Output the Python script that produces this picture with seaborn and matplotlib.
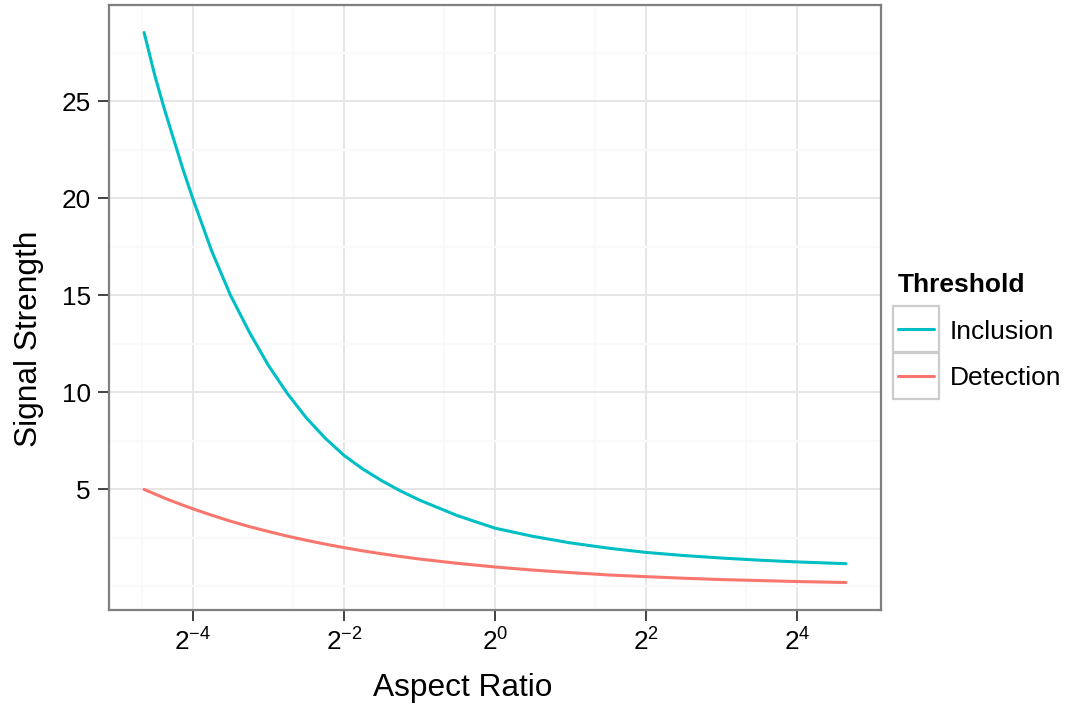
import numpy as np
import pandas as pd
import matplotlib
matplotlib.use("Agg")
import matplotlib.pyplot as plt
import seaborn as sns
from matplotlib.patches import Rectangle
from matplotlib.ticker import NullFormatter

# aspect ratio values (x)
aspect_ratio = [0.04, 0.0442, 0.0482, 0.0526, 0.0573, 0.0625, 0.0743, 0.0884,
                0.1051, 0.125, 0.1487, 0.1768, 0.2102, 0.25, 0.2973, 0.3536,
                0.4204, 0.5, 0.7071, 1.0, 1.414, 2.0, 2.828, 4.0, 5.657, 8.0,
                11.31, 16.0, 25.0]
inclusion = [28.55, 26.3, 24.6, 23.0, 21.45, 20.0, 17.3, 15.0,
             13.1, 11.4, 9.95, 8.7, 7.65, 6.76, 6.05, 5.45,
             4.92, 4.45, 3.65, 3.0, 2.58, 2.24, 1.97, 1.75, 1.59, 1.46,
             1.35, 1.26, 1.17]
detection = [5.0, 4.76, 4.55, 4.36, 4.18, 4.0, 3.67, 3.36,
             3.08, 2.83, 2.59, 2.38, 2.18, 2.0, 1.83, 1.68,
             1.54, 1.41, 1.19, 1.0, 0.84, 0.71, 0.59, 0.5, 0.42, 0.35,
             0.30, 0.25, 0.2]
series_names = ["Inclusion", "Detection"]
series_colors = {"Inclusion": "#00BFC4", "Detection": "#F8766D"}
x_major = [2 ** -4, 2 ** -2, 1, 4, 16]
x_major_labels = ["$2^{-4}$", "$2^{-2}$", "$2^{0}$", "$2^{2}$", "$2^{4}$"]
y_major = [5, 10, 15, 20, 25]

df = pd.concat([
    pd.DataFrame({"x": aspect_ratio, "y": inclusion, "Threshold": "Inclusion"}),
    pd.DataFrame({"x": aspect_ratio, "y": detection, "Threshold": "Detection"}),
])

sns.set_theme(style="white")
plt.rcParams["font.family"] = ["Liberation Sans", "DejaVu Sans"]
plt.rcParams["mathtext.fontset"] = "custom"
plt.rcParams["mathtext.rm"] = "Liberation Sans"
plt.rcParams["mathtext.it"] = "Liberation Sans"

fig = plt.figure(figsize=(10.7, 7.06), dpi=100)
ax = fig.add_axes([109 / 1070, 1 - 610 / 706, (881 - 109) / 1070, (610 - 5) / 706])

sns.lineplot(data=df, x="x", y="y", hue="Threshold", hue_order=series_names,
             palette=series_colors, linewidth=2.2, ax=ax, sort=False)

ax.set_xscale("log", base=2)

# minor breaks: midpoints of majors in linear space (as ggplot does)
ext = [2 ** -6] + x_major + [64]
x_minor = [(a + b) / 2 for a, b in zip(ext[:-1], ext[1:])]
ax.set_xticks(x_major)
ax.set_xticklabels(x_major_labels)
ax.set_xticks(x_minor, minor=True)
ax.xaxis.set_minor_formatter(NullFormatter())
ax.set_yticks(y_major)
ax.set_yticks(np.arange(0, 30, 2.5), minor=True)
ax.yaxis.set_minor_formatter(NullFormatter())

# ggplot-like 5% expansion (set after ticks so they don't widen the view)
lx = np.log2([min(aspect_ratio), max(aspect_ratio)])
pad = (lx[1] - lx[0]) * 0.05
ax.set_xlim(2 ** (lx[0] - pad), 2 ** (lx[1] + pad))
ymin = min(detection + inclusion)
ymax = max(detection + inclusion)
ypad = (ymax - ymin) * 0.05
ax.set_ylim(ymin - ypad, ymax + ypad)

ax.grid(True, which="minor", color="#FAFAFA", linewidth=1.6)
ax.grid(True, which="major", color="#E6E6E6", linewidth=1.4)
ax.set_axisbelow(True)

ax.tick_params(axis="both", which="major", length=8, width=1.3, color="#333333",
               labelsize=18.8, labelcolor="black", pad=5, bottom=True, left=True)
ax.tick_params(axis="both", which="minor", length=0)
for s in ax.spines.values():
    s.set_color("#7F7F7F")
    s.set_linewidth(1.6)

ax.set_xlabel("Aspect Ratio", fontsize=22.8, labelpad=13, color="black")
ax.set_ylabel("Signal Strength", fontsize=22.8, labelpad=13, color="black")
ax.xaxis.label.set_x(0.4585)
ax.yaxis.label.set_y(0.449)

handles, labels = ax.get_legend_handles_labels()
ax.legend_.remove()
leg = ax.legend(handles, labels, title="Threshold", loc="center left",
                bbox_to_anchor=(1.0045, 0.46), frameon=False, fontsize=19,
                handlelength=1.36, handletextpad=0.62, labelspacing=0.85,
                borderpad=0.0, alignment="left")
leg.get_title().set_fontweight("bold")
leg.get_title().set_fontsize(19)
leg.get_title().set_color("black")
for t in leg.get_texts():
    t.set_color("black")
for ln in leg.get_lines():
    ln.set_linewidth(2.2)

fig.canvas.draw()
renderer = fig.canvas.get_renderer()
for ln in leg.get_lines():
    bb = ln.get_window_extent(renderer)
    cy = (bb.y0 + bb.y1) / 2
    x0 = bb.x0 - 5
    w = bb.width + 10
    h = 46
    fig.patches.append(Rectangle((x0 / 1070, (cy - h / 2) / 706), w / 1070, h / 706,
                                 transform=fig.transFigure, fill=False,
                                 edgecolor="#CCCCCC", linewidth=1.6))

fig.savefig("out.png", dpi=100)
